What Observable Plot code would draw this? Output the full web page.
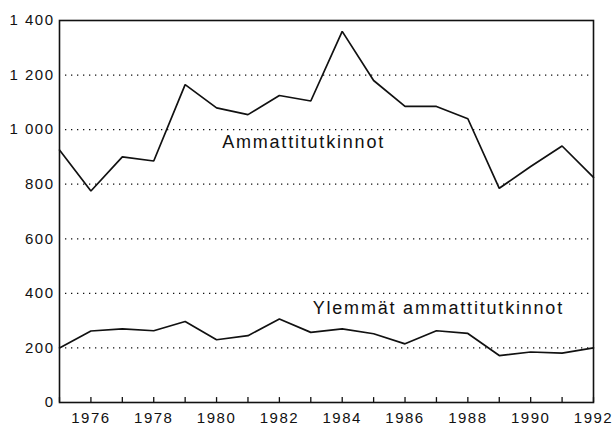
<!DOCTYPE html>
<html>
<head>
<meta charset="utf-8">
<script src="https://cdn.jsdelivr.net/npm/d3@7"></script>
<script src="https://cdn.jsdelivr.net/npm/@observablehq/plot@0.6"></script>
<style>
  html, body { margin: 0; padding: 0; background: #fff; }
  svg text { letter-spacing: 1.5px; }
  svg .series-label text { letter-spacing: 1.8px; }
</style>
</head>
<body>
<div id="chart"></div>
<script>
const years = [1975,1976,1977,1978,1979,1980,1981,1982,1983,1984,1985,1986,1987,1988,1989,1990,1991,1992];
const ammattitutkinnot = [925,775,900,885,1165,1080,1055,1125,1105,1360,1180,1085,1085,1040,785,865,940,825];
const ylemmat = [200,262,270,263,297,230,245,306,257,270,252,215,263,253,172,185,181,200];
const seriesNames = ["Ammattitutkinnot", "Ylemmät ammattitutkinnot"];
const labelYears = [1982.77, 1987.06];
const labelValues = [955, 346];
const yTicks = [0,200,400,600,800,1000,1200,1400];
const gridValues = [200,400,600,800,1000,1200];
const xLabelYears = [1976,1978,1980,1982,1984,1986,1988,1990,1992];

const rows = [];
years.forEach((yr, i) => {
  rows.push({year: yr, value: ammattitutkinnot[i], series: seriesNames[0]});
  rows.push({year: yr, value: ylemmat[i], series: seriesNames[1]});
});
const labels = seriesNames.map((s, i) => ({name: s, year: labelYears[i], value: labelValues[i]}));

const fmt = d => {
  const s = String(d);
  return s.length > 3 ? s.slice(0, s.length - 3) + " " + s.slice(-3) : s;
};

const chart = Plot.plot({
  width: 612,
  height: 425,
  marginLeft: 59,
  marginRight: 19,
  marginTop: 20,
  marginBottom: 23,
  style: {fontFamily: "'Liberation Sans', Arial, sans-serif", fontSize: "15px", color: "#111", background: "#fff"},
  x: {domain: [1975, 1992], label: null},
  y: {domain: [0, 1400], label: null},
  marks: [
    Plot.ruleY(gridValues, {stroke: "#111", strokeWidth: 1.3, strokeDasharray: "1.3,4.7", insetLeft: 6, insetRight: 3}),
    Plot.ruleX(years, {x: d => d, y1: 0, y2: 18, stroke: "#111", strokeWidth: 1.3}),
    Plot.frame({stroke: "#111", strokeWidth: 1.6}),
    Plot.axisY({ticks: yTicks, tickSize: 0, tickPadding: 5, tickFormat: fmt, fontSize: 15, fill: "#111", label: null}),
    Plot.axisX({ticks: xLabelYears, tickSize: 0, tickPadding: 10, tickFormat: d => String(d), fontSize: 15, fill: "#111", label: null}),
    Plot.line(rows, {x: "year", y: "value", z: "series", stroke: "#111", strokeWidth: 1.7, strokeLinejoin: "miter"}),
    Plot.text(labels, {x: "year", y: "value", text: "name", fontSize: 18, fill: "#111", className: "series-label"})
  ]
});
document.getElementById("chart").appendChild(chart);
</script>
</body>
</html>
